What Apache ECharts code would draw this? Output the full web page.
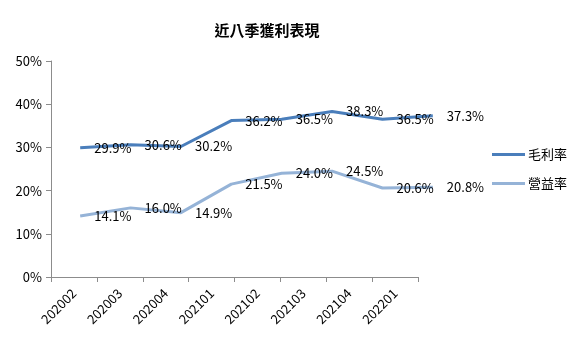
<!DOCTYPE html>
<html>
<head>
<meta charset="utf-8">
<script src="https://cdn.jsdelivr.net/npm/echarts@6/dist/echarts.min.js"></script>
<style>
  html, body { margin: 0; padding: 0; background: #fff; }
  #chart { width: 572px; height: 352px; }
</style>
</head>
<body>
<div id="chart"></div>
<script>
// 季度
var quarters = ['202002', '202003', '202004', '202101', '202102', '202103', '202104', '202201']
// 毛利率 (%)
var grossMargin = [29.9, 30.6, 30.2, 36.2, 36.5, 38.3, 36.5, 37.3]
// 營益率 (%)
var opMargin = [14.1, 16.0, 14.9, 21.5, 24.0, 24.5, 20.6, 20.8]
var seriesNames = ['毛利率', '營益率']

var font = '"Noto Sans CJK TC", "Noto Sans", sans-serif'
var axisColor = '#8c8c8c'

var chart = echarts.init(document.getElementById('chart'))

function lineSeries(name, data, color) {
  return {
    name: name,
    type: 'line',
    xAxisIndex: 1,
    yAxisIndex: 1,
    data: data,
    symbol: 'circle',
    symbolSize: 0.1,
    lineStyle: { color: color, width: 3 },
    itemStyle: { color: color },
    label: {
      show: true,
      position: 'right',
      distance: 14,
      color: '#000',
      fontSize: 13,
      fontFamily: font,
      formatter: function (p) { return p.value.toFixed(1) + '%' }
    },
    animation: false
  }
}

chart.setOption({
  animation: false,
  title: {
    text: '近八季獲利表現',
    left: 262,
    top: 18,
    textAlign: 'center',
    textStyle: { fontSize: 15, fontWeight: 'bold', color: '#000', fontFamily: font }
  },
  legend: {
    orient: 'vertical',
    left: 487,
    top: 143,
    itemWidth: 33,
    itemHeight: 3,
    itemGap: 16,
    icon: 'rect',
    data: seriesNames,
    textStyle: { fontSize: 13, color: '#000', fontFamily: font, padding: [0, 0, 0, -2] }
  },
  grid: [
    { left: 51, right: 154, top: 61, bottom: 75 },
    { left: 55, width: 403, top: 61, bottom: 75 }
  ],
  xAxis: [{
    type: 'category',
    gridIndex: 0,
    data: quarters,
    axisLine: { lineStyle: { color: axisColor } },
    axisTick: { show: true, length: 5, lineStyle: { color: axisColor } },
    axisLabel: { rotate: 45, margin: 14, fontSize: 13, color: '#000', fontFamily: font }
  }, {
    type: 'category',
    gridIndex: 1,
    data: quarters,
    show: false
  }],
  yAxis: [{
    type: 'value',
    gridIndex: 0,
    min: 0,
    max: 50,
    interval: 10,
    axisLine: { show: true, lineStyle: { color: axisColor } },
    axisTick: { show: true, length: 5, lineStyle: { color: axisColor } },
    splitLine: { show: false },
    axisLabel: { formatter: '{value}%', fontSize: 13, color: '#000', margin: 9, fontFamily: font }
  }, {
    type: 'value',
    gridIndex: 1,
    min: 0,
    max: 50,
    interval: 10,
    show: false
  }],
  series: [
    lineSeries(seriesNames[0], grossMargin, '#4A7EBB'),
    lineSeries(seriesNames[1], opMargin, '#95B3D7')
  ]
})
</script>
</body>
</html>
